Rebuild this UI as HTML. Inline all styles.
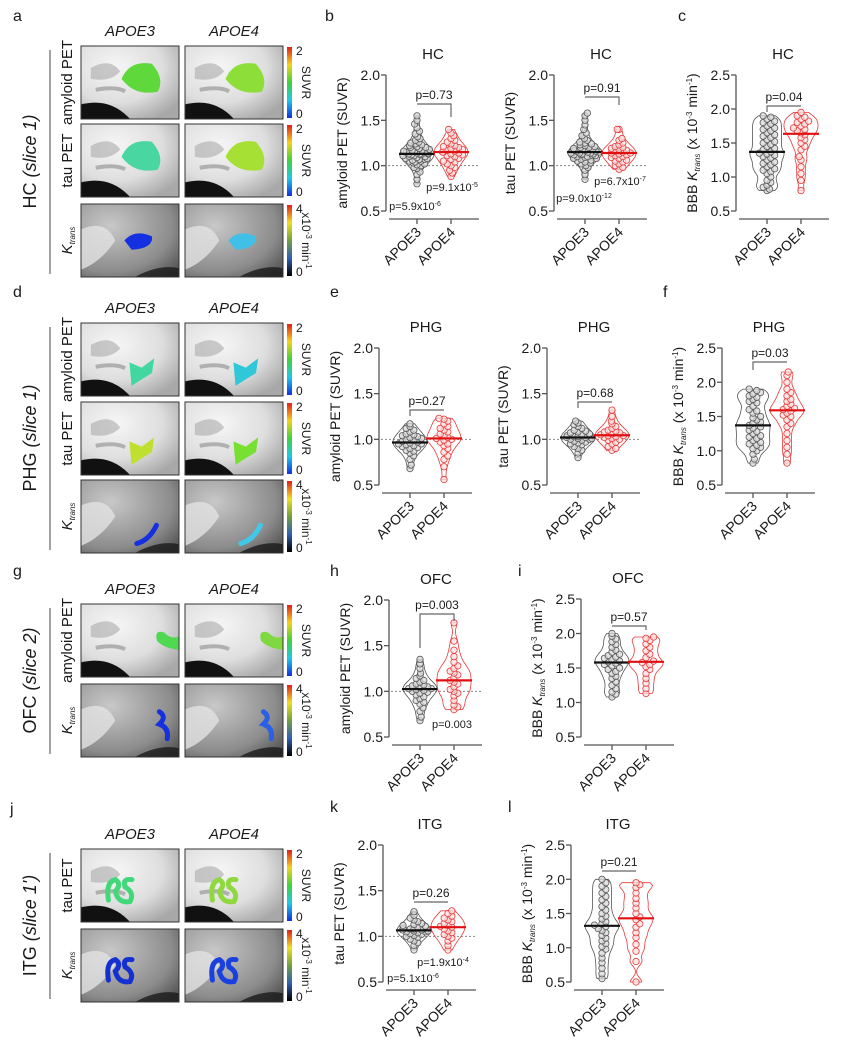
<!DOCTYPE html>
<html><head><meta charset="utf-8">
<style>
html,body{margin:0;padding:0;background:#fff;}
svg{display:block;font-family:"Liberation Sans",Arial,sans-serif;}
</style></head>
<body>
<svg id="fig" width="843" height="1050" viewBox="0 0 843 1050">
<defs>
<linearGradient id="petbar" x1="0" y1="0" x2="0" y2="1">
<stop offset="0" stop-color="#e0201a"/><stop offset="0.25" stop-color="#f5d21a"/><stop offset="0.5" stop-color="#3fd23a"/><stop offset="0.75" stop-color="#20c8e8"/><stop offset="1" stop-color="#1030e0"/>
</linearGradient>
<linearGradient id="kbar" x1="0" y1="0" x2="0" y2="1">
<stop offset="0" stop-color="#e0201a"/><stop offset="0.25" stop-color="#f0e020"/><stop offset="0.5" stop-color="#70a040"/><stop offset="0.75" stop-color="#3060b0"/><stop offset="1" stop-color="#000"/>
</linearGradient>
<radialGradient id="petbg" cx="0.35" cy="0.3" r="0.8">
<stop offset="0" stop-color="#f6f6f6"/><stop offset="0.6" stop-color="#dedede"/><stop offset="1" stop-color="#a8a8a8"/>
</radialGradient>
<radialGradient id="kbg" cx="0.3" cy="0.3" r="0.9">
<stop offset="0" stop-color="#c8c8c8"/><stop offset="0.7" stop-color="#8c8c8c"/><stop offset="1" stop-color="#555"/>
</radialGradient>
</defs>
</svg>
<script>
// ---------- chart data ----------
const groups = ["APOE3", "APOE4"];
const ticksSUVR = [0.5, 1.0, 1.5, 2.0];
const ticksK = [0.5, 1.0, 1.5, 2.0, 2.5];

const b1_e3 = [0.80,0.85,0.90,0.93,0.97,0.98,1.00,1.01,1.02,1.03,1.04,1.05,1.05,1.06,1.07,1.07,1.08,1.08,1.09,1.10,1.10,1.11,1.11,1.12,1.12,1.13,1.13,1.13,1.14,1.14,1.15,1.15,1.16,1.16,1.17,1.17,1.18,1.19,1.20,1.20,1.21,1.22,1.23,1.24,1.25,1.26,1.28,1.30,1.32,1.35,1.38,1.42,1.46,1.50,1.55];
const b1_e4 = [0.88,0.92,0.95,0.98,1.00,1.02,1.04,1.05,1.07,1.08,1.10,1.11,1.12,1.13,1.14,1.15,1.15,1.16,1.17,1.18,1.19,1.20,1.21,1.22,1.24,1.26,1.28,1.30,1.33,1.36,1.40];
const b2_e3 = [0.85,0.90,0.95,0.98,1.00,1.02,1.03,1.04,1.05,1.06,1.07,1.08,1.08,1.09,1.10,1.10,1.11,1.11,1.12,1.12,1.13,1.13,1.14,1.14,1.14,1.15,1.15,1.16,1.16,1.17,1.17,1.18,1.18,1.19,1.20,1.20,1.21,1.22,1.23,1.24,1.25,1.26,1.28,1.30,1.33,1.36,1.40,1.45,1.50,1.55,1.58];
const b2_e4 = [0.96,0.98,1.00,1.02,1.04,1.05,1.06,1.08,1.09,1.10,1.11,1.12,1.13,1.14,1.14,1.15,1.16,1.17,1.18,1.19,1.20,1.21,1.23,1.25,1.28,1.30,1.40,1.40];
const c_e3 = [0.80,0.82,0.85,0.88,0.92,0.95,1.00,1.05,1.08,1.10,1.12,1.15,1.18,1.20,1.22,1.25,1.28,1.30,1.32,1.34,1.35,1.37,1.40,1.42,1.45,1.48,1.50,1.52,1.55,1.58,1.60,1.62,1.65,1.68,1.70,1.72,1.75,1.78,1.80,1.82,1.85,1.88,1.90];
const c_e4 = [0.80,0.95,1.05,1.15,1.25,1.30,1.40,1.45,1.50,1.55,1.58,1.62,1.65,1.68,1.70,1.72,1.75,1.78,1.80,1.82,1.85,1.88,1.90,1.95];
const e1_e3 = [0.68,0.72,0.78,0.82,0.85,0.87,0.88,0.90,0.91,0.92,0.93,0.94,0.95,0.95,0.96,0.97,0.98,0.99,1.00,1.01,1.02,1.03,1.04,1.05,1.06,1.08,1.10,1.12,1.14,1.17];
const e1_e4 = [0.56,0.70,0.78,0.82,0.86,0.90,0.93,0.95,0.97,0.99,1.00,1.01,1.02,1.04,1.06,1.08,1.10,1.12,1.14,1.17,1.20,1.22,1.23];
const e2_e3 = [0.80,0.85,0.88,0.90,0.92,0.94,0.95,0.96,0.97,0.98,0.99,1.00,1.00,1.01,1.01,1.02,1.02,1.03,1.03,1.04,1.05,1.06,1.07,1.08,1.09,1.10,1.12,1.14,1.16,1.18,1.20];
const e2_e4 = [0.88,0.90,0.92,0.95,0.97,0.99,1.00,1.01,1.02,1.03,1.04,1.04,1.05,1.06,1.07,1.08,1.09,1.10,1.12,1.14,1.17,1.20,1.25,1.32];
const f_e3 = [0.82,0.88,0.95,1.00,1.03,1.05,1.08,1.10,1.12,1.15,1.18,1.20,1.22,1.25,1.28,1.30,1.33,1.35,1.37,1.40,1.42,1.45,1.48,1.50,1.55,1.58,1.60,1.65,1.70,1.72,1.75,1.78,1.80,1.83,1.85,1.88,1.90];
const f_e4 = [0.82,0.95,1.05,1.15,1.25,1.35,1.40,1.45,1.50,1.52,1.55,1.58,1.60,1.62,1.65,1.68,1.72,1.75,1.80,1.85,1.90,2.00,2.10,2.15];
const h_e3 = [0.68,0.72,0.78,0.82,0.86,0.88,0.90,0.92,0.94,0.96,0.98,0.99,1.00,1.01,1.02,1.03,1.03,1.04,1.05,1.06,1.07,1.08,1.10,1.12,1.14,1.17,1.20,1.25,1.30,1.35];
const h_e4 = [0.80,0.83,0.85,0.90,0.95,0.98,1.00,1.02,1.05,1.08,1.10,1.12,1.15,1.18,1.20,1.22,1.25,1.28,1.32,1.38,1.45,1.55,1.75];
const i_e3 = [1.08,1.12,1.15,1.20,1.25,1.30,1.35,1.38,1.42,1.45,1.48,1.50,1.53,1.55,1.57,1.59,1.60,1.62,1.64,1.66,1.68,1.70,1.73,1.76,1.80,1.84,1.88,1.92,1.96,2.00];
const i_e4 = [1.13,1.20,1.28,1.35,1.42,1.48,1.52,1.55,1.58,1.60,1.65,1.70,1.75,1.80,1.85,1.90,1.93,1.95];
const k_e3 = [0.85,0.90,0.93,0.95,0.97,0.99,1.00,1.01,1.02,1.03,1.04,1.05,1.05,1.06,1.06,1.07,1.07,1.08,1.08,1.09,1.10,1.11,1.12,1.13,1.14,1.16,1.18,1.20,1.23,1.27];
const k_e4 = [0.85,0.90,0.95,0.98,1.00,1.02,1.04,1.06,1.08,1.10,1.11,1.12,1.14,1.16,1.18,1.20,1.22,1.25,1.28];
const l_e3 = [0.55,0.62,0.70,0.78,0.85,0.92,0.98,1.02,1.06,1.10,1.14,1.18,1.22,1.25,1.28,1.31,1.33,1.35,1.38,1.42,1.46,1.50,1.55,1.60,1.65,1.70,1.75,1.80,1.85,1.90,1.95,2.00];
const l_e4 = [0.50,0.80,0.95,1.05,1.15,1.22,1.30,1.35,1.41,1.45,1.50,1.58,1.65,1.72,1.80,1.88,1.92,1.95];
const pMain = ["p=0.73","p=0.91","p=0.04","p=0.27","p=0.68","p=0.03","p=0.003","p=0.57","p=0.26","p=0.21"];

// ---------- helpers ----------
const svg = document.getElementById('fig');
const NSU = svg.namespaceURI;
function mk(parent, tag, attrs){
  const e = document.createElementNS(NSU, tag);
  for (const k in attrs) e.setAttribute(k, attrs[k]);
  parent.appendChild(e);
  return e;
}
function text(parent, x, y, s, size, extra){
  const t = mk(parent, 'text', Object.assign({x:x, y:y, 'font-size':size, fill:'#1a1a1a'}, extra||{}));
  t.innerHTML = s;
  return t;
}
function median(a){ const s=[...a].sort((p,q)=>p-q); const n=s.length; return n%2?s[(n-1)/2]:(s[n/2-1]+s[n/2])/2; }

// ---------- panel letters ----------
const letters = [["a",13,17],["b",325,17],["c",678,17],["d",13,293],["e",330,293],["f",663,293],["g",13,572],["h",330,572],["i",518,572],["j",10,810],["k",330,808],["l",508,808]];
letters.forEach(L=>{
  const t = text(svg, L[1], L[2], L[0], 16, {'dominant-baseline':'middle'});
  
  
});

// ---------- brain image panels ----------
function brainRow(g, x, y, w, h, kind, blob, blobColor, thin){
  const bg = mk(g, 'rect', {x:x, y:y, width:w, height:h, fill: kind==='K' ? 'url(#kbg)' : 'url(#petbg)'});
  if (kind==='K'){
    mk(g,'path',{d:`M${x} ${y+h*0.35} Q${x+w*0.25} ${y+h*0.2} ${x+w*0.35} ${y+h*0.5} Q${x+w*0.2} ${y+h*0.8} ${x} ${y+h*0.9} Z`, fill:'#e2e2e2', opacity:0.8});
    mk(g,'path',{d:`M${x+w*0.55} ${y+h} Q${x+w*0.8} ${y+h*0.82} ${x+w} ${y+h*0.88} L${x+w} ${y+h} Z`, fill:'#1a1a1a', opacity:0.8});
  } else {
    mk(g,'path',{d:`M${x} ${y+h*0.8} Q${x+w*0.3} ${y+h*0.7} ${x+w*0.5} ${y+h} L${x} ${y+h} Z`, fill:'#111'});
    mk(g,'path',{d:`M${x+w*0.1} ${y+h*0.3} Q${x+w*0.3} ${y+h*0.15} ${x+w*0.4} ${y+h*0.35} Q${x+w*0.3} ${y+h*0.5} ${x+w*0.1} ${y+h*0.45} Z`, fill:'#aaa', opacity:0.6});
    mk(g,'path',{d:`M${x+w*0.15} ${y+h*0.6} Q${x+w*0.35} ${y+h*0.55} ${x+w*0.45} ${y+h*0.62}`, fill:'none', stroke:'#b0b0b0', 'stroke-width':4});
  }
  if (thin) mk(g, 'path', {d: blob(x,y,w,h), fill: 'none', stroke: blobColor, 'stroke-width': 5, 'stroke-linecap':'round'});
  else mk(g, 'path', {d: blob(x,y,w,h), fill: blobColor, stroke: blobColor, 'stroke-width': 1});
  mk(g, 'rect', {x:x, y:y, width:w, height:h, fill:'none', stroke:'#333', 'stroke-width':1});
  return bg;
}
const blobHC = (x,y,w,h)=>`M${x+w*0.42} ${y+h*0.45} Q${x+w*0.5} ${y+h*0.2} ${x+w*0.72} ${y+h*0.25} Q${x+w*0.85} ${y+h*0.45} ${x+w*0.78} ${y+h*0.62} Q${x+w*0.55} ${y+h*0.68} ${x+w*0.42} ${y+h*0.45} Z`;
const blobHCk = (x,y,w,h)=>`M${x+w*0.45} ${y+h*0.5} Q${x+w*0.55} ${y+h*0.35} ${x+w*0.72} ${y+h*0.45} Q${x+w*0.73} ${y+h*0.6} ${x+w*0.52} ${y+h*0.62} Z`;
const blobPHG = (x,y,w,h)=>`M${x+w*0.5} ${y+h*0.55} L${x+w*0.62} ${y+h*0.62} L${x+w*0.74} ${y+h*0.5} L${x+w*0.72} ${y+h*0.68} L${x+w*0.6} ${y+h*0.78} L${x+w*0.52} ${y+h*0.85} Z`;
const blobPHGk = (x,y,w,h)=>`M${x+w*0.57} ${y+h*0.87} Q${x+w*0.7} ${y+h*0.82} ${x+w*0.77} ${y+h*0.62}`;
const blobOFC = (x,y,w,h)=>`M${x+w*0.78} ${y+h*0.5} Q${x+w*0.75} ${y+h*0.35} ${x+w*0.85} ${y+h*0.4} Q${x+w*0.92} ${y+h*0.5} ${x+w} ${y+h*0.45} L${x+w} ${y+h*0.62} Q${x+w*0.85} ${y+h*0.6} ${x+w*0.78} ${y+h*0.5} Z`;
const blobOFCk = (x,y,w,h)=>`M${x+w*0.8} ${y+h*0.38} Q${x+w*0.88} ${y+h*0.45} ${x+w*0.8} ${y+h*0.55} Q${x+w*0.9} ${y+h*0.6} ${x+w*0.88} ${y+h*0.75}`;
const blobITG = (x,y,w,h)=>`M${x+w*0.28} ${y+h*0.7} Q${x+w*0.25} ${y+h*0.45} ${x+w*0.35} ${y+h*0.42} Q${x+w*0.42} ${y+h*0.48} ${x+w*0.35} ${y+h*0.58} Q${x+w*0.38} ${y+h*0.75} ${x+w*0.5} ${y+h*0.72} Q${x+w*0.55} ${y+h*0.6} ${x+w*0.45} ${y+h*0.52} Q${x+w*0.42} ${y+h*0.4} ${x+w*0.52} ${y+h*0.42}`;

const brainBlocks = [
  {name:'hc', label:'HC <tspan font-style="italic">(slice 1)</tspan>', top:46, rows:[
    {y:46,k:'PET',lab:'amyloid PET',blob:blobHC,c:['#5fd83c','#8ede3a']},
    {y:124,k:'PET',lab:'tau PET',blob:blobHC,c:['#4ad6a0','#a6e034']},
    {y:204,k:'K',lab:'K',blob:blobHCk,c:['#1530e0','#40c0e8']}]},
  {name:'phg', label:'PHG <tspan font-style="italic">(slice 1)</tspan>', top:323, rows:[
    {y:323,k:'PET',lab:'amyloid PET',blob:blobPHG,c:['#40d8a0','#30c8d8']},
    {y:402,k:'PET',lab:'tau PET',blob:blobPHG,c:['#c0e030','#78e030']},
    {y:480,k:'K',lab:'K',blob:blobPHGk,thin:true,c:['#1530e0','#40c8e8']}]},
  {name:'ofc', label:'OFC <tspan font-style="italic">(slice 2)</tspan>', top:604, rows:[
    {y:604,k:'PET',lab:'amyloid PET',blob:blobOFC,c:['#50d850','#80d840']},
    {y:684,k:'K',lab:'K',blob:blobOFCk,thin:true,c:['#1530e0','#2a60e8']}]},
  {name:'itg', label:'ITG <tspan font-style="italic">(slice 1\')</tspan>', top:849, rows:[
    {y:849,k:'PET',lab:'tau PET',blob:blobITG,thin:true,c:['#40d878','#90d840']},
    {y:929,k:'K',lab:'K',blob:blobITG,thin:true,c:['#1530d0','#1a40e0']}]}
];
brainBlocks.forEach(B=>{
  const g = mk(svg,'g',{});
  
  
  const h3 = text(g, 130, B.top-10, 'APOE3', 15, {'text-anchor':'middle','font-style':'italic'});
  
  
  const h4 = text(g, 234, B.top-10, 'APOE4', 15, {'text-anchor':'middle','font-style':'italic'});
  
  
  const lastRow = B.rows[B.rows.length-1];
  const bottom = lastRow.y + 73;
  mk(g,'line',{x1:50,y1:B.top+4,x2:50,y2:bottom-3,stroke:'#444','stroke-width':1});
  const midY = (B.top+bottom)/2;
  const gl = text(g, 0, 0, B.label, 18, {'text-anchor':'middle', transform:`translate(36 ${midY}) rotate(-90)`});
  
  
  B.rows.forEach(R=>{
    const h = 73;
    brainRow(g, 81, R.y, 98, h, R.k, R.blob, R.c[0], R.thin);
    brainRow(g, 185, R.y, 98, h, R.k, R.blob, R.c[1], R.thin);
    const rl = R.lab==='K'
      ? text(g,0,0,'<tspan font-style="italic" font-size="15">K</tspan><tspan font-style="italic" font-size="8" dy="3">trans</tspan>',15,{'text-anchor':'middle',transform:`translate(72 ${R.y+h/2}) rotate(-90)`})
      : text(g,0,0,R.lab,15,{'text-anchor':'middle',transform:`translate(72 ${R.y+h/2}) rotate(-90)`});
    
    
    const cb = mk(g,'rect',{x:287,y:R.y+1,width:5,height:h-2,fill: R.k==='K'?'url(#kbar)':'url(#petbar)'});
    
    
    text(g,296,R.y+9,R.k==='K'?'4':'2',12,{});
    text(g,296,R.y+h-1,'0',12,{});
    const unit = R.k==='K'
      ? text(g,0,0,'x10<tspan font-size="8" dy="-4">-3</tspan><tspan dy="4"> min</tspan><tspan font-size="8" dy="-4">-1</tspan>',12,{'text-anchor':'middle',transform:`translate(302 ${R.y+h/2}) rotate(90)`})
      : text(g,0,0,'SUVR',12,{'text-anchor':'middle',transform:`translate(302 ${R.y+h/2}) rotate(90)`});
    
    
  });
});

// ---------- charts ----------
const KLABEL = 'BBB <tspan font-style="italic">K</tspan><tspan font-style="italic" font-size="8" dy="3">trans</tspan><tspan dy="-3"> (x 10</tspan><tspan font-size="8" dy="-5">-3</tspan><tspan dy="5"> min</tspan><tspan font-size="8" dy="-5">-1</tspan><tspan dy="5">)</tspan>';
const charts = [
  {id:'b1', ax:386, yTop:75, yBot:211, max:2.0, ticks:ticksSUVR, title:'HC', ylab:'amyloid PET (SUVR)', d3:b1_e3, d4:b1_e4, p:0, br:[104,0,13], ref:true,
   extra:[['p=9.1x10<tspan font-size="7" dy="-4">-5</tspan>',452,191],['p=5.9x10<tspan font-size="7" dy="-4">-6</tspan>',415,210]]},
  {id:'b2', ax:554, yTop:75, yBot:211, max:2.0, ticks:ticksSUVR, title:'HC', ylab:'tau PET (SUVR)', d3:b2_e3, d4:b2_e4, p:1, br:[97,0,8], ref:true,
   extra:[['p=6.7x10<tspan font-size="7" dy="-4">-7</tspan>',620,185],['p=9.0x10<tspan font-size="7" dy="-4">-12</tspan>',584,202]]},
  {id:'c', ax:736, yTop:75, yBot:211, max:2.5, ticks:ticksK, title:'HC', ylab:KLABEL, d3:c_e3, d4:c_e4, p:2, br:[106,6,0], ref:false, extra:[]},
  {id:'e1', ax:379, yTop:348, yBot:485, max:2.0, ticks:ticksSUVR, title:'PHG', ylab:'amyloid PET (SUVR)', d3:e1_e3, d4:e1_e4, p:3, br:[410,6,0], ref:true, extra:[]},
  {id:'e2', ax:547, yTop:348, yBot:485, max:2.0, ticks:ticksSUVR, title:'PHG', ylab:'tau PET (SUVR)', d3:e2_e3, d4:e2_e4, p:4, br:[402,6,0], ref:true, extra:[]},
  {id:'f', ax:722, yTop:348, yBot:485, max:2.5, ticks:ticksK, title:'PHG', ylab:KLABEL, d3:f_e3, d4:f_e4, p:5, br:[362,8,0], ref:false, extra:[]},
  {id:'h', ax:389, yTop:600, yBot:737, max:2.0, ticks:ticksSUVR, title:'OFC', ylab:'amyloid PET (SUVR)', d3:h_e3, d4:h_e4, p:6, br:[614,34,7], ref:true,
   extra:[['p=0.003',452,728]]},
  {id:'i', ax:581, yTop:599, yBot:737, max:2.5, ticks:ticksK, title:'OFC', ylab:KLABEL, d3:i_e3, d4:i_e4, p:7, br:[626,0,4], ref:false, extra:[]},
  {id:'k', ax:383, yTop:845, yBot:982, max:2.0, ticks:ticksSUVR, title:'ITG', ylab:'tau PET (SUVR)', d3:k_e3, d4:k_e4, p:8, br:[902,0,0], ref:true,
   extra:[['p=1.9x10<tspan font-size="7" dy="-4">-4</tspan>',443,966],['p=5.1x10<tspan font-size="7" dy="-4">-6</tspan>',413,982]]},
  {id:'l', ax:571, yTop:845, yBot:982, max:2.5, ticks:ticksK, title:'ITG', ylab:KLABEL, d3:l_e3, d4:l_e4, p:9, br:[871,0,0], ref:false, extra:[]}
];

function drawGroup(g, vals, cx, yS, color, fillC, name){
  const lo = Math.min(...vals), hi = Math.max(...vals);
  const steps = 40, pts=[];
  let maxD = 0;
  for (let i=0;i<=steps;i++){
    const v = lo + (hi-lo)*i/steps;
    let d=0; vals.forEach(u=>{ const z=(v-u)/0.06; d+=Math.exp(-0.5*z*z); });
    pts.push([v,d]); if(d>maxD) maxD=d;
  }
  const maxW = 17;
  const halfW = v => { let best=pts[0]; pts.forEach(p=>{ if(Math.abs(p[0]-v)<Math.abs(best[0]-v)) best=p; }); return Math.max(3, best[1]/maxD*maxW - 3); };
  let path = '';
  pts.forEach((p,i)=>{ path += (i?'L':'M') + (cx + p[1]/maxD*maxW).toFixed(1) + ' ' + yS(p[0]).toFixed(1); });
  for (let i=pts.length-1;i>=0;i--){ path += 'L' + (cx - pts[i][1]/maxD*maxW).toFixed(1) + ' ' + yS(pts[i][0]).toFixed(1); }
  path += 'Z';
  const vio = mk(g,'path',{d:path, fill:'none', stroke:color, 'stroke-width':0.8});
  
  
  const r = 3.2, placed = [];
  const sorted = [...vals].sort((a,b)=>a-b);
  sorted.forEach((v,idx)=>{
    const y = yS(v);
    const lim = halfW(v);
    let dx = null;
    for (let k=0;k<30;k++){
      const off = (k%2?1:-1)*Math.ceil(k/2)*3.8;
      if (Math.abs(off) > lim) break;
      let ok = true;
      for (const p of placed){ if (Math.hypot(p[0]-(cx+off), p[1]-y) < 4.2){ ok=false; break; } }
      if (ok){ dx = off; break; }
    }
    if (dx === null) dx = ((idx*7)%11 - 5)/5*lim;
    placed.push([cx+dx, y]);
    const c = mk(g,'circle',{cx:(cx+dx).toFixed(1), cy:y.toFixed(1), r:r, fill:fillC, 'fill-opacity':0.75, stroke:color, 'stroke-width':0.8});
    
    
  });
  const m = median(vals);
  const ml = mk(g,'line',{x1:cx-18, x2:cx+18, y1:yS(m), y2:yS(m), stroke: name==='apoe3'?'#111':'#e01010', 'stroke-width':2.2});
  
  
}

charts.forEach(C=>{
  const g = mk(svg,'g',{});
  
  
  const yS = v => C.yBot - (v-0.5)/(C.max-0.5)*(C.yBot-C.yTop);
  const ax = C.ax, xAxisY = C.yBot + 8;
  const gx = [ax+31, ax+65];
  const tt = text(g, ax+47, C.yTop-16, C.title, 15, {'text-anchor':'middle'});
  
  
  const ya = mk(g,'line',{x1:ax,y1:C.yTop,x2:ax,y2:C.yBot,stroke:'#555','stroke-width':1.3});
  
  
  C.ticks.forEach(t=>{
    mk(g,'line',{x1:ax-5,x2:ax,y1:yS(t),y2:yS(t),stroke:'#555','stroke-width':1.3});
    const tl = text(g, ax-6, yS(t)+5, t.toFixed(1), 14, {'text-anchor':'end'});
    
    
  });
  const yl = text(g, 0, 0, C.ylab, 14, {'text-anchor':'middle', transform:`translate(${ax-39} ${(C.yTop+C.yBot)/2}) rotate(-90)`});
  
  
  const xa = mk(g,'line',{x1:ax+3,x2:ax+93,y1:xAxisY,y2:xAxisY,stroke:'#555','stroke-width':1.3});
  
  
  groups.forEach((lab,i)=>{
    mk(g,'line',{x1:gx[i],x2:gx[i],y1:xAxisY,y2:xAxisY+5,stroke:'#555','stroke-width':1.3});
    const xl = text(g, 0, 0, lab, 14, {'text-anchor':'end', transform:`translate(${gx[i]+5} ${xAxisY+14}) rotate(-45)`});
    
    
  });
  if (C.ref){
    const rl = mk(g,'line',{x1:ax+2,x2:ax+93,y1:yS(1.0),y2:yS(1.0),stroke:'#888','stroke-width':1,'stroke-dasharray':'2 2'});
    
    
  }
  drawGroup(g, C.d3, gx[0], yS, '#555', '#d8d8d8', 'apoe3');
  drawGroup(g, C.d4, gx[1], yS, '#e83838', '#fbe0e0', 'apoe4');
  const by = C.br[0];
  const bp = mk(g,'path',{d:`M${gx[0]} ${by+C.br[1]} L${gx[0]} ${by} L${gx[1]} ${by} L${gx[1]} ${by+C.br[2]}`, fill:'none', stroke:'#666','stroke-width':1.2});
  
  
  const pt = text(g, (gx[0]+gx[1])/2, by-5, pMain[C.p], 12, {'text-anchor':'middle'});
  
  
  C.extra.forEach(E=>{
    const et = text(g, E[1], E[2], E[0], 11, {'text-anchor':'middle'});
    
    
  });
});
</script>
</body></html>
